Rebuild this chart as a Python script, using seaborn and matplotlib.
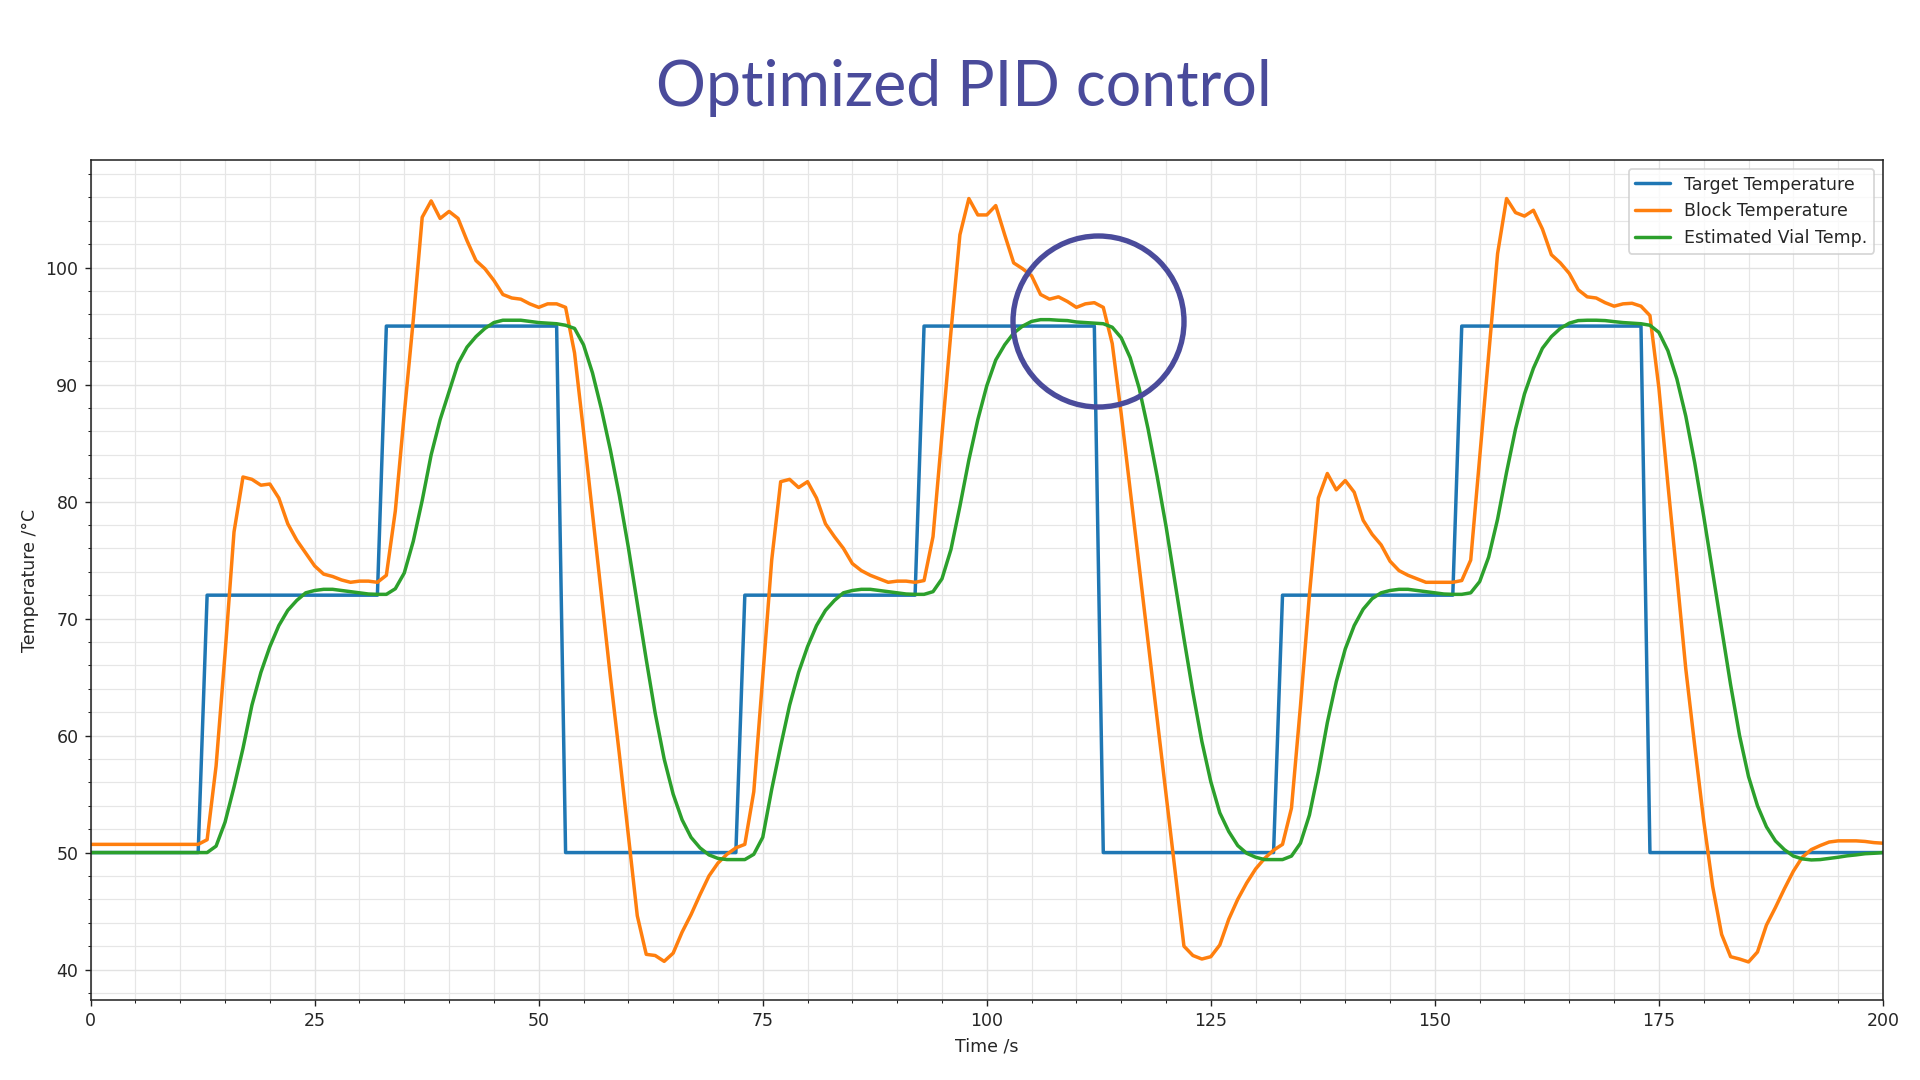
import matplotlib
matplotlib.use('Agg')
import numpy as np
import pandas as pd
import matplotlib.pyplot as plt
import seaborn as sns
from matplotlib.ticker import MultipleLocator

sns.set_style('ticks')
plt.rcParams['font.family'] = ['DejaVu Sans']
plt.rcParams['font.size'] = 10

# target temperature set points (step profile)
target_time = [0, 12, 13, 32, 33, 52, 53, 72, 73, 92, 93, 112, 113, 132, 133, 152, 153, 173, 174, 200]
target_temp = [50, 50, 72, 72, 95, 95, 50, 50, 72, 72, 95, 95, 50, 50, 72, 72, 95, 95, 50, 50]

# block and vial temperatures, one sample per second (t = 0..200)
block_temp = [
    50.7, 50.7, 50.7, 50.7, 50.7, 50.7, 50.7, 50.7, 50.7, 50.7,
    50.7, 50.7, 50.7, 51.1, 57.4, 67.0, 77.4, 82.1, 81.9, 81.4,
    81.5, 80.3, 78.1, 76.7, 75.6, 74.5, 73.8, 73.6, 73.3, 73.1,
    73.2, 73.2, 73.1, 73.7, 79.2, 87.5, 95.5, 104.3, 105.7, 104.2,
    104.8, 104.2, 102.3, 100.6, 99.9, 98.9, 97.7, 97.4, 97.3, 96.9,
    96.6, 96.9, 96.9, 96.6, 92.7, 86.0, 79.0, 72.0, 65.0, 58.4,
    51.5, 44.6, 41.3, 41.2, 40.7, 41.4, 43.2, 44.7, 46.4, 48.0,
    49.1, 49.85, 50.4, 50.7, 55.2, 65.0, 75.0, 81.7, 81.9, 81.2,
    81.7, 80.3, 78.1, 77.0, 76.0, 74.7, 74.1, 73.7, 73.4, 73.1,
    73.2, 73.2, 73.1, 73.25, 77.0, 85.7, 94.5, 102.8, 105.9, 104.5,
    104.5, 105.3, 102.8, 100.4, 99.9, 99.3, 97.7, 97.3, 97.5, 97.1,
    96.6, 96.9, 97.0, 96.6, 93.5, 87.5, 81.0, 74.5, 68.0, 61.5,
    55.0, 48.5, 42.0, 41.2, 40.9, 41.1, 42.1, 44.3, 46.0, 47.4,
    48.6, 49.5, 50.2, 50.7, 53.8, 62.5, 72.0, 80.3, 82.4, 81.0,
    81.8, 80.8, 78.4, 77.2, 76.3, 74.9, 74.1, 73.7, 73.4, 73.1,
    73.1, 73.1, 73.1, 73.25, 75.0, 83.8, 92.5, 101.2, 105.9, 104.7,
    104.4, 104.9, 103.3, 101.1, 100.4, 99.5, 98.1, 97.5, 97.4, 97.0,
    96.7, 96.9, 96.95, 96.7, 95.9, 89.7, 81.5, 73.7, 65.7, 59.1,
    52.7, 47.1, 43.0, 41.1, 40.9, 40.65, 41.5, 43.8, 45.3, 46.9,
    48.4, 49.6, 50.25, 50.6, 50.9, 51.0, 51.0, 51.0, 50.95, 50.85,
    50.8,
]

vial_temp = [
    50.0, 50.0, 50.0, 50.0, 50.0, 50.0, 50.0, 50.0, 50.0, 50.0,
    50.0, 50.0, 50.0, 50.0, 50.55, 52.6, 55.6, 58.9, 62.6, 65.4,
    67.6, 69.4, 70.7, 71.55, 72.2, 72.4, 72.5, 72.5, 72.4, 72.3,
    72.2, 72.1, 72.07, 72.07, 72.55, 73.9, 76.6, 80.1, 84.0, 87.0,
    89.4, 91.8, 93.2, 94.1, 94.8, 95.3, 95.5, 95.5, 95.5, 95.4,
    95.3, 95.25, 95.2, 95.07, 94.8, 93.4, 91.0, 87.9, 84.4, 80.5,
    76.1, 71.3, 66.5, 61.9, 58.0, 55.0, 52.8, 51.3, 50.4, 49.8,
    49.5, 49.4, 49.4, 49.4, 49.85, 51.3, 55.4, 59.1, 62.6, 65.4,
    67.6, 69.4, 70.7, 71.55, 72.2, 72.4, 72.5, 72.5, 72.4, 72.3,
    72.2, 72.1, 72.07, 72.07, 72.3, 73.4, 75.9, 79.6, 83.55, 87.0,
    89.9, 92.1, 93.4, 94.4, 95.0, 95.4, 95.55, 95.55, 95.5, 95.47,
    95.35, 95.3, 95.25, 95.2, 94.9, 94.0, 92.3, 89.7, 86.2, 82.2,
    77.9, 73.1, 68.3, 63.7, 59.5, 56.05, 53.4, 51.8, 50.6, 49.94,
    49.6, 49.4, 49.4, 49.4, 49.7, 50.8, 53.2, 56.9, 61.1, 64.6,
    67.4, 69.4, 70.8, 71.7, 72.2, 72.4, 72.5, 72.5, 72.4, 72.3,
    72.2, 72.1, 72.07, 72.07, 72.2, 73.16, 75.25, 78.5, 82.5, 86.2,
    89.2, 91.4, 93.1, 94.1, 94.8, 95.25, 95.47, 95.5, 95.5, 95.47,
    95.38, 95.3, 95.25, 95.2, 95.07, 94.46, 92.9, 90.5, 87.3, 83.3,
    78.75, 73.95, 69.15, 64.35, 60.0, 56.5, 54.0, 52.2, 51.0, 50.25,
    49.7, 49.46, 49.37, 49.4, 49.5, 49.6, 49.72, 49.8, 49.9, 49.94,
    50.0,
]
sample_time = np.arange(len(block_temp))

# highlighted region (circle annotation)
HIGHLIGHT_T = 112.4
HIGHLIGHT_TEMP = 95.4
ACCENT = '#4a4b9b'

fig = plt.figure(figsize=(15.36, 8.64), dpi=125)
ax = fig.add_axes([0.0472, 0.0741, 0.9335, 0.7778])

sns.lineplot(x=target_time, y=target_temp, ax=ax, color='#1f77b4', lw=2.0,
             estimator=None, label='Target Temperature')
sns.lineplot(x=sample_time, y=block_temp, ax=ax, color='#ff7f0e', lw=2.0,
             estimator=None, label='Block Temperature')
sns.lineplot(x=sample_time, y=vial_temp, ax=ax, color='#2ca02c', lw=2.0,
             estimator=None, label='Estimated Vial Temp.')

ax.plot([HIGHLIGHT_T], [HIGHLIGHT_TEMP], marker='o', markersize=98.5,
        markerfacecolor='none', markeredgecolor=ACCENT, markeredgewidth=3.1,
        zorder=5)

ax.set_xlim(0, 200)
ax.set_ylim(37.4, 109.2)
ax.xaxis.set_major_locator(MultipleLocator(25))
ax.xaxis.set_minor_locator(MultipleLocator(5))
ax.yaxis.set_major_locator(MultipleLocator(10))
ax.yaxis.set_minor_locator(MultipleLocator(2))
ax.tick_params(which='major', length=3.5, width=0.8, labelsize=10, color='#222222')
ax.tick_params(which='minor', length=2, width=0.6, color='#222222')
ax.grid(which='major', color='#e2e2e2', lw=0.8)
ax.grid(which='minor', color='#e6e6e6', lw=0.7)
ax.set_axisbelow(True)
for s in ax.spines.values():
    s.set_color('#222222')
    s.set_linewidth(0.9)

ax.set_xlabel('Time /s', fontsize=10)
ax.set_ylabel('Temperature /°C', fontsize=10)
ax.legend(loc='upper right', fontsize=10, frameon=True)

fig.text(0.502, 0.9014, 'Optimized PID control', ha='center', va='baseline',
         fontsize=36, color=ACCENT, family=['Lato', 'DejaVu Sans'])

fig.savefig('out.png', dpi=125, facecolor='white')
